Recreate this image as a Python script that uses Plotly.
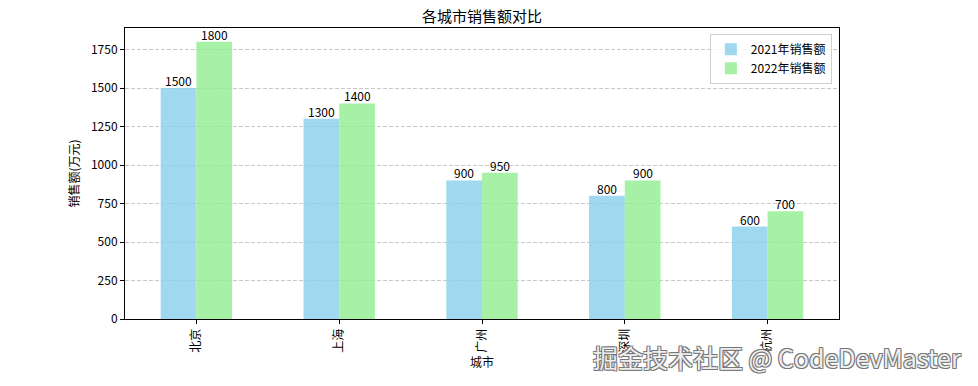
import plotly.graph_objects as go

cities = ["北京", "上海", "广州", "深圳", "杭州"]
sales_2021 = [1500, 1300, 900, 800, 600]
sales_2022 = [1800, 1400, 950, 900, 700]
series_names = ["2021年销售额", "2022年销售额"]
title_text = "各城市销售额对比"
x_title = "城市"
y_title = "销售额(万元)"
watermark = "掘金技术社区 @ CodeDevMaster"

FONT = "Noto Sans CJK SC, Noto Sans, sans-serif"
x_idx = list(range(len(cities)))
BAR_W = 0.25

# page has an 8px body margin, so figure is drawn 8px smaller and shifted
W, H = 970, 378
PL, PT, PR, PB = 117, 20, 831, 311

fig = go.Figure()
fig.add_trace(go.Bar(
    x=x_idx, y=sales_2021, name=series_names[0],
    marker=dict(color="rgba(135,206,235,0.8)", line=dict(width=0)),
    offset=-BAR_W, width=BAR_W,
))
fig.add_trace(go.Bar(
    x=x_idx, y=sales_2022, name=series_names[1],
    marker=dict(color="rgba(144,238,144,0.8)", line=dict(width=0)),
    offset=0, width=BAR_W,
))

for shift, vals in ((-BAR_W / 2, sales_2021), (BAR_W / 2, sales_2022)):
    for i, v in zip(x_idx, vals):
        fig.add_annotation(
            x=i + shift, y=v, xref="x", yref="y", text=str(v),
            showarrow=False, xanchor="center", yanchor="bottom", yshift=-3,
            font=dict(size=12, color="black", family=FONT),
        )

fig.update_layout(
    width=W, height=H,
    margin=dict(l=PL, r=W - PR, t=PT, b=H - PB, autoexpand=False),
    paper_bgcolor="white", plot_bgcolor="white",
    font=dict(family=FONT, size=12, color="black"),
    title=dict(text=title_text, x=(PL + PR) / 2 / W, xanchor="center",
               y=1, yref="container", yanchor="top", pad=dict(t=3),
               font=dict(size=15, family=FONT)),
    barmode="overlay",
    showlegend=True,
    legend=dict(x=0.99, y=0.98, xanchor="right", yanchor="top",
                bgcolor="rgba(255,255,255,0.8)", bordercolor="#d0d0d0", borderwidth=1,
                font=dict(size=12, family=FONT), itemwidth=30),
)
fig.update_xaxes(
    range=[-0.5, 4.5], tickvals=x_idx, ticktext=cities, tickangle=-90,
    showline=True, linecolor="black", linewidth=1, mirror=True, automargin=False,
    ticks="outside", ticklen=4, tickcolor="black", showgrid=False, zeroline=False,
    tickfont=dict(size=12, family=FONT),
    title=dict(text=x_title, font=dict(size=12, family=FONT), standoff=2),
)
fig.update_yaxes(
    range=[0, 1890], tickvals=[0, 250, 500, 750, 1000, 1250, 1500, 1750],
    showline=True, linecolor="black", linewidth=1, mirror=True, automargin=False,
    ticks="outside", ticklen=4, tickcolor="black",
    showgrid=True, gridcolor="rgba(176,176,176,0.7)", griddash="4px,2px", gridwidth=1,
    zeroline=False, tickfont=dict(size=12, family=FONT),
    title=dict(text=y_title, font=dict(size=12, family=FONT), standoff=8),
)

fig.add_annotation(
    text=watermark, xref="paper", yref="paper",
    x=(777 - 125) / 714, y=-(357 - 319) / 291,
    xanchor="center", yanchor="middle", showarrow=False,
    font=dict(size=25, color="#eeeeee", family=FONT,
              shadow="-1px -1px 0 #777, 1px -1px 0 #777, -1px 1px 0 #777, 1px 1px 0 #777"),
)

fig.write_html("out.html")
